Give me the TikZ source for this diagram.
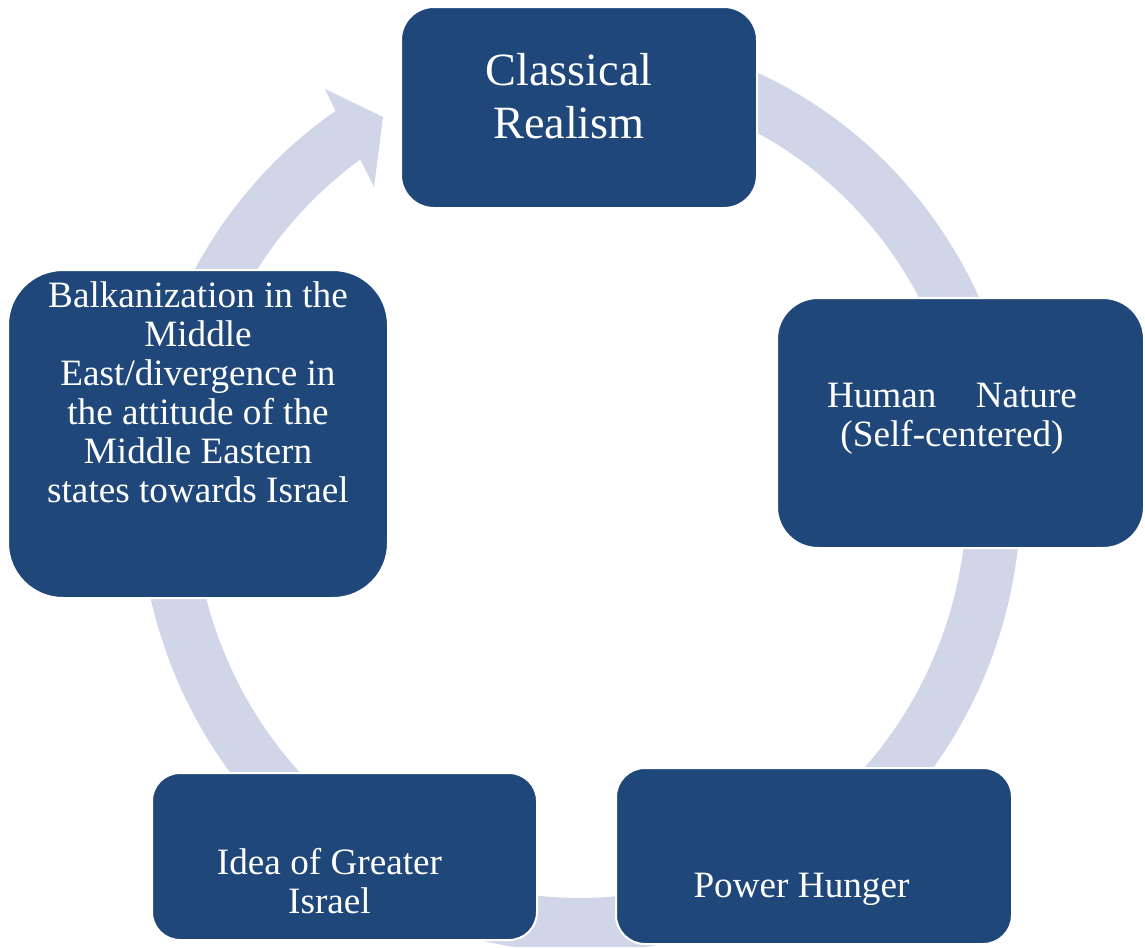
\documentclass[tikz,border=0pt]{standalone}
\usepackage{fontspec}
\setmainfont{Liberation Serif}
\definecolor{boxblue}{RGB}{31,71,122}
\definecolor{ringc}{RGB}{208,213,232}
\begin{document}
\begin{tikzpicture}[x=0.75pt,y=-0.75pt,
  stage/.style={draw=white, line width=1.5pt, fill=boxblue, inner sep=0pt, rounded corners=#1},
  txt/.style={text=white, align=center, anchor=base, inner sep=0pt, font=\fontsize{27.9}{29.25}\selectfont},
]
\useasboundingbox (0,0) rectangle (1145,947);
% cycle ring
\begin{scope}[even odd rule]
  \clip (0,0) rectangle (1145,947) (287,16) -- (412,261) -- (430,261) -- (430,0) -- (287,0) -- cycle;
  \draw[ringc, line width=40.5pt] (580,493) ellipse [x radius=414, y radius=432];
\end{scope}
\fill[ringc] (337,114) -- (325,89) -- (383,117) -- (374,187) -- (362,163) -- cycle;
% boxes
\node[stage=24.75pt, minimum width=267pt, minimum height=150.75pt] (cr) at (579,107.5) {};
\node[stage=30.75pt, minimum width=275.25pt, minimum height=187.5pt] (hn) at (960.5,423) {};
\node[stage=21.75pt, minimum width=297pt, minimum height=132pt] (ph) at (814,856) {};
\node[stage=21pt, minimum width=288.75pt, minimum height=125.25pt] (gi) at (344.5,856.5) {};
\node[stage=41.25pt, minimum width=285pt, minimum height=246pt] (bk) at (198,434) {};
% texts (anchored at the baseline of their last line)
\node[txt, font=\fontsize{34.7}{39.75}\selectfont] (crt) at (569,138) {Classical\\Realism};
\node[txt] (hnt) at (952,446) {\makebox[187.5pt]{Human\hfill Nature}\\(Self-centered)};
\node[txt] (pht) at (801.5,897) {Power Hunger};
\node[txt] (git) at (329.5,913) {Idea of Greater\\Israel};
\node[txt] (bkt) at (198,502) {Balkanization in the\\Middle\\East/divergence in\\the attitude of the\\Middle Eastern\\states towards Israel};
\end{tikzpicture}
\end{document}
